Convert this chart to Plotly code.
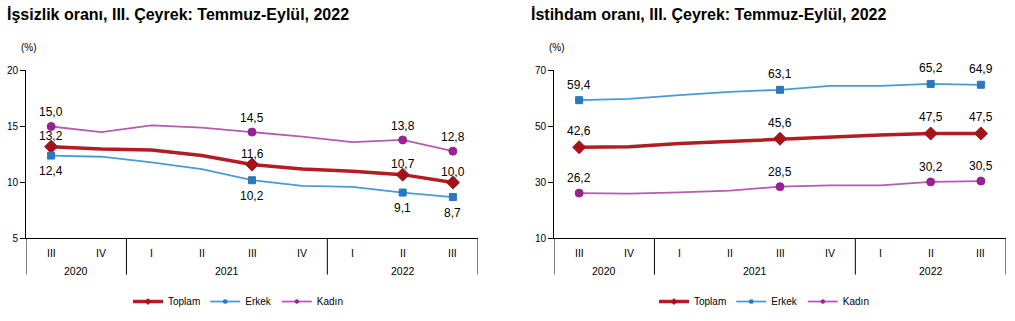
import plotly.graph_objects as go

W, H = 1015, 321

# ---- data ----
quarters = ["III", "IV", "I", "II", "III", "IV", "I", "II", "III"]
years = ["2020", "2021", "2022"]
year_spans = [(0, 1), (2, 5), (6, 8)]
labeled_idx = [0, 4, 7, 8]

unemp_toplam = [13.2, 13.0, 12.9, 12.4, 11.6, 11.2, 11.0, 10.7, 10.0]
unemp_erkek = [12.4, 12.3, 11.8, 11.2, 10.2, 9.7, 9.6, 9.1, 8.7]
unemp_kadin = [15.0, 14.5, 15.1, 14.9, 14.5, 14.1, 13.6, 13.8, 12.8]

emp_toplam = [42.6, 42.8, 43.9, 44.7, 45.6, 46.5, 47.0, 47.5, 47.5]
emp_erkek = [59.4, 59.9, 61.2, 62.4, 63.1, 64.5, 64.5, 65.2, 64.9]
emp_kadin = [26.2, 26.0, 26.5, 27.1, 28.5, 29.0, 29.0, 30.2, 30.5]

title_left = "İşsizlik oranı, III. Çeyrek: Temmuz-Eylül, 2022"
title_right = "İstihdam oranı, III. Çeyrek: Temmuz-Eylül, 2022"
series_names = ["Toplam", "Erkek", "Kadın"]

# ---- styles ----
FONT = "Liberation Sans, Arial, sans-serif"
C_TOP_LINE, C_TOP_MK = "#B01E23", "#A3131A"
C_ERK_LINE, C_ERK_MK = "#4A9AD4", "#2A78BE"
C_KAD_LINE, C_KAD_MK = "#B45BB2", "#992293"

def px_x(p):
    return p / W

def px_y(p):
    return 1 - p / H

y_dom = [px_y(241.5), px_y(67)]
dom_left = [px_x(26), px_x(478)]
dom_right = [px_x(554), px_x(1006)]

def sizes(n, s):
    return [s if i in labeled_idx else 0 for i in range(n)]

fig = go.Figure()

styles = [
    (C_TOP_LINE, C_TOP_MK, 3.5, "diamond", 10),
    (C_ERK_LINE, C_ERK_MK, 1.8, "square", 7),
    (C_KAD_LINE, C_KAD_MK, 1.8, "circle", 8),
]

def add_chart(data, xa, ya, legend_name):
    xs = list(range(len(quarters)))
    for name, vals, (lc, mc, lw, sym, ms) in zip(series_names, data, styles):
        fig.add_trace(go.Scatter(
            x=xs, y=vals, mode="lines+markers", name=name,
            xaxis=xa, yaxis=ya, legend=legend_name,
            line=dict(color=lc, width=lw),
            marker=dict(color=mc, symbol=sym, size=sizes(len(vals), ms),
                        opacity=1, line=dict(width=1, color=mc)),
            hoverinfo="skip",
        ))

add_chart([unemp_toplam, unemp_erkek, unemp_kadin], "x", "y", "legend")
add_chart([emp_toplam, emp_erkek, emp_kadin], "x2", "y2", "legend2")

annotations = []
shapes = []

def fmt(v):
    return f"{v:.1f}".replace(".", ",")

def add_labels(vals, xref, yref, shift):
    for i in labeled_idx:
        annotations.append(dict(
            x=i, y=vals[i], xref=xref, yref=yref, text=fmt(vals[i]),
            showarrow=False, yshift=shift, xanchor="center", yanchor="middle",
            font=dict(family=FONT, size=12, color="#000")))

add_labels(unemp_toplam, "x", "y", 10.5)
add_labels(unemp_erkek, "x", "y", -15.5)
add_labels(unemp_kadin, "x", "y", 14)
add_labels(emp_toplam, "x2", "y2", 16)
add_labels(emp_erkek, "x2", "y2", 15.5)
add_labels(emp_kadin, "x2", "y2", 15)

for xref in ["x", "x2"]:
    for i, q in enumerate(quarters):
        annotations.append(dict(
            x=i, y=px_y(257), xref=xref, yref="paper", text=q, showarrow=False,
            xanchor="center", yanchor="middle",
            font=dict(family=FONT, size=10.5, color="#000")))
    for yr, (a, b) in zip(years, year_spans):
        annotations.append(dict(
            x=(a + b) / 2, y=px_y(275.5), xref=xref, yref="paper", text=yr,
            showarrow=False, xanchor="center", yanchor="middle",
            font=dict(family=FONT, size=10.5, color="#000")))
    for xs in [-0.5, 1.5, 5.5, 8.5]:
        shapes.append(dict(
            type="line", xref=xref, yref="paper", x0=xs, x1=xs,
            y0=px_y(279), y1=y_dom[0], line=dict(color="#000", width=1)))

# titles and unit labels
for t, xp in [(title_left, 5), (title_right, 529)]:
    annotations.append(dict(
        x=px_x(xp), y=px_y(9), xref="paper", yref="paper", text=f"<b>{t}</b>",
        showarrow=False, xanchor="left", yanchor="middle",
        font=dict(family=FONT, size=16, color="#000")))
for xp in [29, 557]:
    annotations.append(dict(
        x=px_x(xp), y=px_y(43), xref="paper", yref="paper", text="(%)",
        showarrow=False, xanchor="center", yanchor="middle",
        font=dict(family=FONT, size=10, color="#000")))

xaxis_common = dict(range=[-0.5, 8.5], showticklabels=False, showgrid=False,
                    zeroline=False, showline=True, linecolor="#000",
                    linewidth=1, ticks="", fixedrange=True)
yaxis_common = dict(showgrid=False, zeroline=False, showline=True,
                    linecolor="#000", linewidth=1, ticks="outside", ticklen=5,
                    tickcolor="#000", tickwidth=1,
                    tickfont=dict(family=FONT, size=10, color="#000"),
                    domain=y_dom, fixedrange=True)

legend_common = dict(orientation="h", yanchor="middle", y=px_y(307),
                     xanchor="center", bgcolor="rgba(0,0,0,0)",
                     font=dict(family=FONT, size=10, color="#000"),
                     itemwidth=30, tracegroupgap=0)

fig.update_layout(
    width=W, height=H, margin=dict(l=0, r=0, t=0, b=0),
    paper_bgcolor="white", plot_bgcolor="white",
    font=dict(family=FONT, color="#000"),
    xaxis=dict(domain=dom_left, anchor="y", **xaxis_common),
    xaxis2=dict(domain=dom_right, anchor="y2", **xaxis_common),
    yaxis=dict(anchor="x", range=[5, 20], tickvals=[5, 10, 15, 20], **yaxis_common),
    yaxis2=dict(anchor="x2", range=[10, 70], tickvals=[10, 30, 50, 70], **yaxis_common),
    legend=dict(x=px_x(238), **legend_common),
    legend2=dict(x=px_x(764), **legend_common),
    annotations=annotations,
    shapes=shapes,
    showlegend=True,
)

fig.write_html("out.html")
